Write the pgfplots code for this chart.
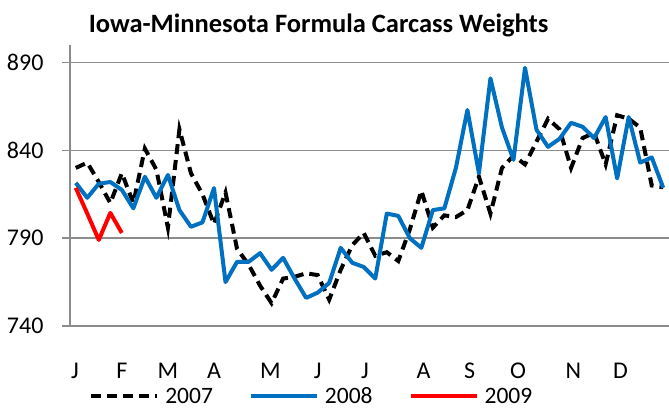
\documentclass[border=0pt]{standalone}
\usepackage{pgfplots}
\pgfplotsset{compat=1.18}
\usepackage{pgfplotstable}
\usepackage{fontspec}
\setmainfont{Carlito}
\definecolor{blue08}{HTML}{0070C0}
\definecolor{gridgray}{HTML}{8C8C8C}

\pgfplotstableread{
x y
0 830
1 833
2 822
3 810
4 827
5 810
6 841
7 829
8 796
9 852
10 827
11 815
12 798
13 816
14 784
15 775
16 763
17 753
18 767
19 768
20 770
21 769
22 755
23 772
24 786
25 793
26 780
27 782
28 777
29 795
30 817
31 796
32 803
33 802
34 806
35 825
36 804
37 830
38 837
39 832
40 845
41 858
42 852
43 830
44 847
45 850
46 832
47 860
48 858
49 853
50 820
51 819
}\ysevenA

\pgfplotstableread{
x y
0 821.5
1 813
2 821
3 822
4 817.5
5 807
6 825
7 813
8 826
9 806
10 796.5
11 799
12 818.5
13 765
14 776.5
15 776.5
16 781.5
17 772
18 778.8
19 767
20 756
21 759
22 764.5
23 784.5
24 776
25 773.6
26 767
27 804
28 802.7
29 790
30 784.5
31 806
32 807
33 830
34 863
35 827
36 881
37 853
38 834.6
39 887
40 851.7
41 842
42 846.6
43 855.7
44 853.4
45 847
46 859
47 824
48 859
49 833
50 836
51 818.7
}\yeightA

\pgfplotstableread{
x y
0 818.7
1 804
2 789
3 804.4
4 793
}\ynineA

\begin{document}
\begin{tikzpicture}
\begin{axis}[
  name=ax,
  scale only axis,
  width=599pt, height=281pt,
  xmin=-0.5, xmax=51.5,
  ymin=740, ymax=900,
  axis x line*=bottom,
  axis y line*=left,
  axis line style={gridgray, line width=1.5pt},
  ytick={740,790,840,890},
  /pgf/number format/assume math mode=true,
  ymajorgrids,
  grid style={gridgray, line width=1.5pt},
  tick align=outside,
  major tick length=8pt,
  minor tick length=7pt,
  ytick style={gridgray, line width=1.5pt},
  xtick={-0.07,4.0,8.0,12.0,16.9,21.0,25.1,30.2,34.2,38.4,43.2,47.3},
  xticklabels={J,F,M,A,M,J,J,A,S,O,N,D},
  xtick style={draw=none},
  minor xtick={-0.5,0.5,...,51.5},
  minor x tick style={gridgray, line width=1.2pt},
  tick label style={font=\fontsize{24}{28}\selectfont, text=black},
  xticklabel style={anchor=base, yshift=-44pt},
  yticklabel style={anchor=east, xshift=-15pt},
  clip=false,
  legend columns=3,
  legend style={draw=none, fill=none, at={(0.407,-0.250)}, anchor=center,
    font=\fontsize{23.5}{27}\selectfont,
    nodes={inner xsep=6pt, inner ysep=1pt},
    /tikz/every even column/.append style={column sep=30pt}},
  legend image code/.code={\draw[#1] (0pt,0pt) -- (66pt,0pt);},
]
\addplot[black, line width=4pt, dash pattern=on 10pt off 6pt] table[x=x,y=y] {\ysevenA};
\addlegendentry{2007}
\addplot[blue08, line width=4pt, line join=round] table[x=x,y=y] {\yeightA};
\addlegendentry{2008}
\addplot[red, line width=4pt, line join=round] table[x=x,y=y] {\ynineA};
\addlegendentry{2009}
\node[anchor=base, font=\fontsize{26.5}{30}\selectfont\bfseries] at (rel axis cs:0.415,1) [yshift=12pt] {Iowa-Minnesota Formula Carcass Weights};
\end{axis}
\pgfresetboundingbox
\path (ax.south west) ++(-70pt,-83pt) rectangle ++(669pt,409pt);
\end{tikzpicture}
\end{document}
